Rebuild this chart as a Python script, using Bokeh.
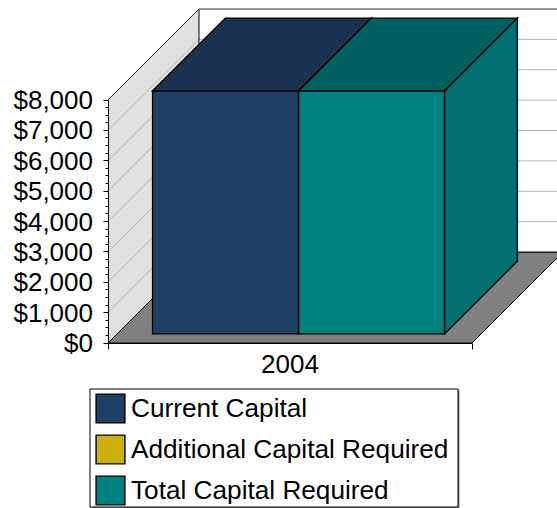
from bokeh.plotting import figure
from bokeh.models import Range1d, FixedTicker, NumeralTickFormatter, Legend, LegendItem, BoxAnnotation
from bokeh.embed import file_html
from bokeh.resources import INLINE

categories = ["2004"]
current_capital = [8000]
additional_capital_required = [0]
total_capital_required = [8000]
value_ticks = [0, 1000, 2000, 3000, 4000, 5000, 6000, 7000, 8000]
minor_ticks = [v for v in range(0, 8001, 250) if v % 1000]
series_labels = ["Current Capital", "Additional Capital Required", "Total Capital Required"]

FONT = "Liberation Sans"
FS = "26px"
FS_LEGEND = "26.2px"
W, H = 557, 508
X0, Y0 = 107.5, 342.5    # where the corner of the chart lies on the canvas
PX_X = 364.0             # one category is 364 px wide
PX_Y = 243.0 / 8000      # 8000 dollars are 243 px tall
DEPTH_X = 91 / PX_X      # oblique shift of the whole depth in x units
DEPTH_Y = 91 / PX_Y      # ... and in value units
BAR_W = 146 / PX_X
GAP = 35.5 / PX_X
D0, D1 = 0.1, 0.9        # bar front/back in depth

def px(x, v, d):
    return x + d * DEPTH_X, v + d * DEPTH_Y

p = figure(width=W, height=H, output_backend="svg", toolbar_location=None,
           x_range=Range1d(-X0 / PX_X, (W - X0) / PX_X),
           y_range=Range1d(-(H - Y0) / PX_Y, Y0 / PX_Y),
           min_border_left=0, min_border_right=0, min_border_top=0, min_border_bottom=0,
           outline_line_color=None, background_fill_color="white", border_fill_color="white")
p.grid.visible = False

top = value_ticks[-1]
GRID = "#b4b4b4"

# floor
fx, fy = zip(*[px(0, 0, 0), px(1, 0, 0), px(1, 0, 1), px(0, 0, 1)])
p.patch(fx, fy, fill_color="#808080", line_color="black", line_width=1)
# back wall
bx, by = zip(*[px(0, 0, 1), px(0, top, 1), px(1, top, 1), px(1, 0, 1)])
p.patch(bx, by, fill_color="white", line_color=None)
# side wall
sx, sy = zip(*[px(0, 0, 0), px(0, top, 0), px(0, top, 1), px(0, 0, 1)])
p.patch(sx, sy, fill_color="#e0e0e0", line_color=None)

# gridlines
gx, gy = [], []
for v in value_ticks[1:]:
    a, b, c = px(0, v, 0), px(0, v, 1), px(1, v, 1)
    gx.append([a[0], b[0], c[0]])
    gy.append([a[1], b[1], c[1]])
p.multi_line(gx[:-1], gy[:-1], line_color=GRID, line_width=1)
# wall outlines
ox, oy = zip(*[px(0, top, 0), px(0, top, 1), px(1, top, 1)])
p.line(ox, oy, line_color="#333333", line_width=1)
ox, oy = zip(*[px(0, 0, 1), px(0, top, 1)])
p.line(ox, oy, line_color="black", line_width=1)
ox, oy = zip(*[px(0, 0, 0), px(0, 0, 1), px(1, 0, 1)])
p.line(ox, oy, line_color="black", line_width=1)


def bar(x0, x1, v, front, tp, side):
    a = px(x0, 0, D0); b = px(x1, 0, D0); c = px(x1, v, D0); d = px(x0, v, D0)
    e = px(x0, v, D1); f = px(x1, v, D1); g = px(x1, 0, D1)
    r = p.quad(left=[a[0]], right=[b[0]], bottom=[a[1]], top=[c[1]],
               fill_color=front, line_color="black", line_width=1.4, line_join="miter")
    for poly, col in (([d, c, f, e], tp), ([b, c, f, g], side)):
        xs, ys = zip(*poly)
        p.patch(xs, ys, fill_color=col, line_color="black", line_width=1.4, line_join="miter")
    return r

x_a = GAP
x_b = x_a + BAR_W
x_c = x_b + BAR_W

# the zero-valued series has no height; it lies hidden under the bars
z = px(x_b, additional_capital_required[0], D0)
r_add = p.quad(left=[z[0]], right=[z[0]], bottom=[z[1]], top=[z[1]],
               fill_color="#CCB00E", line_color="black", line_width=1.4, line_join="miter")
r_cur = bar(x_a, x_b, current_capital[0], "#1F3F64", "#1A3350", "#1A3350")
r_tot = bar(x_b, x_c, total_capital_required[0], "#008080", "#006060", "#007070")

# axes
ya = p.yaxis[0]
ya.fixed_location = 0
ya.bounds = (0, top)
ya.ticker = FixedTicker(ticks=value_ticks, minor_ticks=minor_ticks)
ya.formatter = NumeralTickFormatter(format="$0,0")
ya.axis_line_color = "black"
ya.major_tick_line_color = "black"
ya.minor_tick_line_color = "black"
ya.major_tick_out = 5
ya.major_tick_in = 0
ya.minor_tick_out = 3
ya.minor_tick_in = 0
ya.major_label_text_font = FONT
ya.major_label_text_font_size = FS
ya.major_label_text_color = "black"
ya.major_label_standoff = 10

xa = p.xaxis[0]
xa.fixed_location = 0
xa.bounds = (0, 1)
xa.ticker = FixedTicker(ticks=[0.5], minor_ticks=[0, 1])
xa.major_label_overrides = {0.5: categories[0]}
xa.axis_line_color = "black"
xa.major_tick_line_color = None
xa.major_tick_out = 0
xa.major_tick_in = 0
xa.minor_tick_line_color = "black"
xa.minor_tick_out = 6
xa.minor_tick_in = 0
xa.major_label_text_font = FONT
xa.major_label_text_font_size = FS
xa.major_label_text_color = "black"
xa.major_label_standoff = 6

# legend frame with its grey shadow
def box(l, r, t, b, **kw):
    return BoxAnnotation(left=l, right=r, top=t, bottom=b, left_units="canvas", right_units="canvas",
                         top_units="canvas", bottom_units="canvas", fill_alpha=1, line_alpha=1, **kw)

p.add_layout(box(91, 459, 390, 508, fill_color="#808080", line_color=None))
p.add_layout(box(89.5, 457.5, 388.5, 506.5, fill_color="white", line_color="black", line_width=1))
legend = Legend(items=[LegendItem(label=series_labels[0], renderers=[r_cur]),
                       LegendItem(label=series_labels[1], renderers=[r_add]),
                       LegendItem(label=series_labels[2], renderers=[r_tot])],
                location=(92, 0), orientation="vertical", margin=0, padding=0,
                spacing=5, glyph_width=36, glyph_height=36, label_standoff=3,
                label_text_font=FONT, label_text_font_size=FS_LEGEND, label_text_color="black",
                label_height=30, border_line_color=None,
                background_fill_alpha=0)
p.add_layout(legend, "center")

open("out.html", "w").write(file_html(p, INLINE))
